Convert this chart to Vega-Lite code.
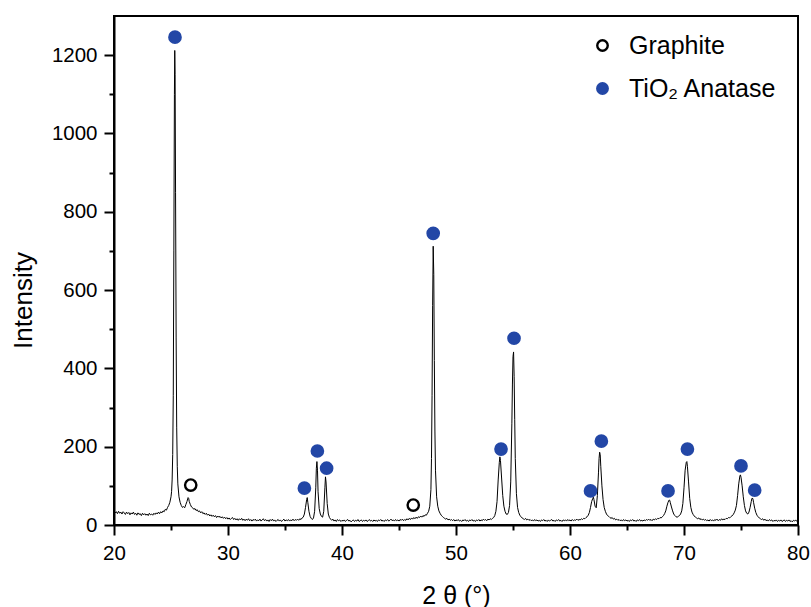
{
"$schema": "https://vega.github.io/schema/vega-lite/v6.json",
"width": 684, "height": 509,
"autosize": {"type": "none"},
"padding": {"left": 114, "top": 16, "right": 13, "bottom": 82},
"background": "white",
"config": {
  "view": {"stroke": "black", "strokeWidth": 2},
  "font": "Liberation Sans",
  "axis": {"grid": false, "domainColor": "black", "domainWidth": 2, "tickColor": "black", "tickWidth": 2, "labelColor": "black", "labelFont": "Liberation Sans", "labelFontSize": 20.5, "labelFlush": false, "labelOverlap": false, "titleColor": "black", "titleFont": "Liberation Sans", "titleFontWeight": "normal"}
},
"datasets": {
"xrd": [
{"t":20.0,"i":36},{"t":20.1,"i":31},{"t":20.2,"i":34},{"t":20.3,"i":29},{"t":20.4,"i":35},{"t":20.5,"i":30},{"t":20.6,"i":33},{"t":20.7,"i":28},{"t":20.8,"i":34},{"t":20.9,"i":31},
{"t":21.0,"i":27},{"t":21.1,"i":33},{"t":21.2,"i":29},{"t":21.3,"i":32},{"t":21.4,"i":26},{"t":21.5,"i":31},{"t":21.6,"i":28},{"t":21.7,"i":33},{"t":21.8,"i":27},{"t":21.9,"i":30},
{"t":22.0,"i":25},{"t":22.1,"i":31},{"t":22.2,"i":27},{"t":22.3,"i":29},{"t":22.4,"i":24},{"t":22.5,"i":30},{"t":22.6,"i":26},{"t":22.7,"i":29},{"t":22.8,"i":25},{"t":22.9,"i":28},
{"t":23.0,"i":24},{"t":23.1,"i":30},{"t":23.2,"i":26},{"t":23.3,"i":28},{"t":23.4,"i":25},{"t":23.5,"i":30},{"t":23.6,"i":27},{"t":23.7,"i":31},{"t":23.8,"i":28},{"t":23.9,"i":33},
{"t":24.0,"i":29},{"t":24.1,"i":34},{"t":24.2,"i":31},{"t":24.3,"i":36},{"t":24.4,"i":34},{"t":24.5,"i":40},{"t":24.6,"i":38},{"t":24.7,"i":45},{"t":24.8,"i":50},{"t":24.9,"i":58},
{"t":25.0,"i":72},{"t":25.05,"i":85},{"t":25.1,"i":115},{"t":25.15,"i":180},{"t":25.2,"i":330},{"t":25.25,"i":700},{"t":25.3,"i":1100},{"t":25.33,"i":1212},{"t":25.36,"i":1150},{"t":25.4,"i":850},
{"t":25.45,"i":480},{"t":25.5,"i":250},{"t":25.55,"i":150},{"t":25.6,"i":105},{"t":25.7,"i":72},{"t":25.8,"i":58},{"t":25.9,"i":50},{"t":26.0,"i":45},{"t":26.1,"i":47},{"t":26.2,"i":44},
{"t":26.3,"i":52},{"t":26.4,"i":60},{"t":26.5,"i":70},{"t":26.55,"i":68},{"t":26.6,"i":60},{"t":26.7,"i":52},{"t":26.8,"i":46},{"t":26.9,"i":44},{"t":27.0,"i":40},{"t":27.1,"i":42},
{"t":27.2,"i":37},{"t":27.3,"i":39},{"t":27.4,"i":34},{"t":27.5,"i":36},{"t":27.6,"i":31},{"t":27.7,"i":34},{"t":27.8,"i":29},{"t":27.9,"i":31},{"t":28.0,"i":27},{"t":28.1,"i":30},
{"t":28.2,"i":25},{"t":28.3,"i":28},{"t":28.4,"i":23},{"t":28.5,"i":26},{"t":28.6,"i":22},{"t":28.7,"i":25},{"t":28.8,"i":21},{"t":28.9,"i":24},{"t":29.0,"i":19},{"t":29.1,"i":23},
{"t":29.2,"i":20},{"t":29.3,"i":22},{"t":29.4,"i":18},{"t":29.5,"i":21},{"t":29.6,"i":17},{"t":29.7,"i":20},{"t":29.8,"i":16},{"t":29.9,"i":19},{"t":30.0,"i":15},{"t":30.1,"i":18},
{"t":30.2,"i":14},{"t":30.3,"i":17},{"t":30.4,"i":19},{"t":30.5,"i":14},{"t":30.6,"i":17},{"t":30.7,"i":13},{"t":30.8,"i":16},{"t":30.9,"i":12},{"t":31.0,"i":16},{"t":31.1,"i":13},
{"t":31.2,"i":17},{"t":31.3,"i":12},{"t":31.4,"i":15},{"t":31.5,"i":11},{"t":31.6,"i":15},{"t":31.7,"i":12},{"t":31.8,"i":16},{"t":31.9,"i":11},{"t":32.0,"i":14},{"t":32.1,"i":10},
{"t":32.2,"i":14},{"t":32.3,"i":12},{"t":32.4,"i":15},{"t":32.5,"i":10},{"t":32.6,"i":13},{"t":32.7,"i":11},{"t":32.8,"i":15},{"t":32.9,"i":10},{"t":33.0,"i":13},{"t":33.1,"i":16},
{"t":33.2,"i":11},{"t":33.3,"i":14},{"t":33.4,"i":10},{"t":33.5,"i":13},{"t":33.6,"i":9},{"t":33.7,"i":14},{"t":33.8,"i":11},{"t":33.9,"i":15},{"t":34.0,"i":10},{"t":34.1,"i":13},
{"t":34.2,"i":9},{"t":34.3,"i":12},{"t":34.4,"i":14},{"t":34.5,"i":10},{"t":34.6,"i":13},{"t":34.7,"i":9},{"t":34.8,"i":12},{"t":34.9,"i":15},{"t":35.0,"i":10},{"t":35.1,"i":13},
{"t":35.2,"i":11},{"t":35.3,"i":14},{"t":35.4,"i":10},{"t":35.5,"i":13},{"t":35.6,"i":11},{"t":35.7,"i":15},{"t":35.8,"i":11},{"t":35.9,"i":14},{"t":36.0,"i":12},{"t":36.1,"i":15},
{"t":36.2,"i":12},{"t":36.3,"i":16},{"t":36.4,"i":14},{"t":36.5,"i":18},{"t":36.6,"i":20},{"t":36.7,"i":28},{"t":36.8,"i":45},{"t":36.9,"i":65},{"t":36.95,"i":70},{"t":37.0,"i":58},
{"t":37.1,"i":35},{"t":37.2,"i":22},{"t":37.3,"i":17},{"t":37.4,"i":14},{"t":37.5,"i":18},{"t":37.6,"i":35},{"t":37.7,"i":95},{"t":37.75,"i":145},{"t":37.8,"i":162},{"t":37.85,"i":140},
{"t":37.9,"i":85},{"t":38.0,"i":42},{"t":38.1,"i":28},{"t":38.2,"i":22},{"t":38.3,"i":20},{"t":38.4,"i":35},{"t":38.5,"i":95},{"t":38.55,"i":123},{"t":38.6,"i":110},{"t":38.7,"i":55},
{"t":38.8,"i":28},{"t":38.9,"i":19},{"t":39.0,"i":15},{"t":39.1,"i":12},{"t":39.2,"i":15},{"t":39.3,"i":10},{"t":39.4,"i":13},{"t":39.5,"i":9},{"t":39.6,"i":14},{"t":39.7,"i":11},
{"t":39.8,"i":13},{"t":39.9,"i":9},{"t":40.0,"i":12},{"t":40.1,"i":10},{"t":40.2,"i":13},{"t":40.3,"i":9},{"t":40.4,"i":12},{"t":40.5,"i":14},{"t":40.6,"i":10},{"t":40.7,"i":12},
{"t":40.8,"i":8},{"t":40.9,"i":11},{"t":41.0,"i":13},{"t":41.1,"i":9},{"t":41.2,"i":12},{"t":41.3,"i":10},{"t":41.4,"i":14},{"t":41.5,"i":9},{"t":41.6,"i":11},{"t":41.7,"i":13},
{"t":41.8,"i":9},{"t":41.9,"i":12},{"t":42.0,"i":10},{"t":42.1,"i":13},{"t":42.2,"i":9},{"t":42.3,"i":11},{"t":42.4,"i":14},{"t":42.5,"i":10},{"t":42.6,"i":12},{"t":42.7,"i":9},
{"t":42.8,"i":13},{"t":42.9,"i":10},{"t":43.0,"i":12},{"t":43.1,"i":9},{"t":43.2,"i":13},{"t":43.3,"i":11},{"t":43.4,"i":14},{"t":43.5,"i":10},{"t":43.6,"i":12},{"t":43.7,"i":9},
{"t":43.8,"i":13},{"t":43.9,"i":11},{"t":44.0,"i":14},{"t":44.1,"i":10},{"t":44.2,"i":12},{"t":44.3,"i":15},{"t":44.4,"i":11},{"t":44.5,"i":13},{"t":44.6,"i":10},{"t":44.7,"i":14},
{"t":44.8,"i":11},{"t":44.9,"i":13},{"t":45.0,"i":10},{"t":45.1,"i":14},{"t":45.2,"i":12},{"t":45.3,"i":15},{"t":45.4,"i":11},{"t":45.5,"i":14},{"t":45.6,"i":12},{"t":45.7,"i":16},
{"t":45.8,"i":13},{"t":45.9,"i":17},{"t":46.0,"i":14},{"t":46.1,"i":18},{"t":46.2,"i":15},{"t":46.3,"i":19},{"t":46.4,"i":16},{"t":46.5,"i":20},{"t":46.6,"i":17},{"t":46.7,"i":21},
{"t":46.8,"i":19},{"t":46.9,"i":23},{"t":47.0,"i":20},{"t":47.1,"i":24},{"t":47.2,"i":22},{"t":47.3,"i":26},{"t":47.4,"i":25},{"t":47.5,"i":30},{"t":47.6,"i":35},{"t":47.7,"i":48},
{"t":47.8,"i":90},{"t":47.85,"i":170},{"t":47.9,"i":330},{"t":47.95,"i":560},{"t":48.0,"i":712},{"t":48.05,"i":640},{"t":48.1,"i":420},{"t":48.15,"i":240},{"t":48.2,"i":140},{"t":48.3,"i":72},
{"t":48.4,"i":48},{"t":48.5,"i":36},{"t":48.6,"i":30},{"t":48.7,"i":25},{"t":48.8,"i":22},{"t":48.9,"i":19},{"t":49.0,"i":17},{"t":49.1,"i":15},{"t":49.2,"i":17},{"t":49.3,"i":13},
{"t":49.4,"i":15},{"t":49.5,"i":12},{"t":49.6,"i":14},{"t":49.7,"i":11},{"t":49.8,"i":14},{"t":49.9,"i":10},{"t":50.0,"i":13},{"t":50.1,"i":11},{"t":50.2,"i":14},{"t":50.3,"i":10},
{"t":50.4,"i":12},{"t":50.5,"i":9},{"t":50.6,"i":13},{"t":50.7,"i":11},{"t":50.8,"i":14},{"t":50.9,"i":10},{"t":51.0,"i":12},{"t":51.1,"i":9},{"t":51.2,"i":13},{"t":51.3,"i":11},
{"t":51.4,"i":14},{"t":51.5,"i":10},{"t":51.6,"i":12},{"t":51.7,"i":9},{"t":51.8,"i":13},{"t":51.9,"i":11},{"t":52.0,"i":14},{"t":52.1,"i":10},{"t":52.2,"i":13},{"t":52.3,"i":11},
{"t":52.4,"i":15},{"t":52.5,"i":12},{"t":52.6,"i":14},{"t":52.7,"i":11},{"t":52.8,"i":15},{"t":52.9,"i":13},{"t":53.0,"i":16},{"t":53.1,"i":14},{"t":53.2,"i":17},{"t":53.3,"i":19},
{"t":53.4,"i":24},{"t":53.5,"i":35},{"t":53.6,"i":60},{"t":53.7,"i":115},{"t":53.8,"i":160},{"t":53.85,"i":174},{"t":53.9,"i":165},{"t":54.0,"i":120},{"t":54.1,"i":75},{"t":54.2,"i":48},
{"t":54.3,"i":35},{"t":54.4,"i":28},{"t":54.5,"i":27},{"t":54.6,"i":32},{"t":54.7,"i":50},{"t":54.8,"i":110},{"t":54.9,"i":260},{"t":54.95,"i":360},{"t":55.0,"i":430},{"t":55.05,"i":442},
{"t":55.1,"i":380},{"t":55.15,"i":270},{"t":55.2,"i":170},{"t":55.3,"i":80},{"t":55.4,"i":45},{"t":55.5,"i":32},{"t":55.6,"i":25},{"t":55.7,"i":21},{"t":55.8,"i":18},{"t":55.9,"i":16},
{"t":56.0,"i":14},{"t":56.1,"i":17},{"t":56.2,"i":13},{"t":56.3,"i":15},{"t":56.4,"i":12},{"t":56.5,"i":14},{"t":56.6,"i":11},{"t":56.7,"i":13},{"t":56.8,"i":10},{"t":56.9,"i":14},
{"t":57.0,"i":11},{"t":57.1,"i":13},{"t":57.2,"i":10},{"t":57.3,"i":12},{"t":57.4,"i":9},{"t":57.5,"i":13},{"t":57.6,"i":11},{"t":57.7,"i":14},{"t":57.8,"i":10},{"t":57.9,"i":12},
{"t":58.0,"i":9},{"t":58.1,"i":13},{"t":58.2,"i":10},{"t":58.3,"i":12},{"t":58.4,"i":14},{"t":58.5,"i":10},{"t":58.6,"i":12},{"t":58.7,"i":9},{"t":58.8,"i":13},{"t":58.9,"i":11},
{"t":59.0,"i":14},{"t":59.1,"i":10},{"t":59.2,"i":12},{"t":59.3,"i":9},{"t":59.4,"i":13},{"t":59.5,"i":11},{"t":59.6,"i":13},{"t":59.7,"i":10},{"t":59.8,"i":14},{"t":59.9,"i":11},
{"t":60.0,"i":13},{"t":60.1,"i":10},{"t":60.2,"i":14},{"t":60.3,"i":11},{"t":60.4,"i":13},{"t":60.5,"i":12},{"t":60.6,"i":15},{"t":60.7,"i":12},{"t":60.8,"i":14},{"t":60.9,"i":13},
{"t":61.0,"i":16},{"t":61.1,"i":14},{"t":61.2,"i":17},{"t":61.3,"i":16},{"t":61.4,"i":19},{"t":61.5,"i":21},{"t":61.6,"i":25},{"t":61.7,"i":32},{"t":61.8,"i":45},{"t":61.9,"i":60},
{"t":62.0,"i":68},{"t":62.05,"i":71},{"t":62.1,"i":65},{"t":62.2,"i":48},{"t":62.3,"i":44},{"t":62.4,"i":75},{"t":62.5,"i":135},{"t":62.55,"i":170},{"t":62.6,"i":186},{"t":62.65,"i":180},
{"t":62.7,"i":150},{"t":62.8,"i":100},{"t":62.9,"i":65},{"t":63.0,"i":45},{"t":63.1,"i":35},{"t":63.2,"i":28},{"t":63.3,"i":24},{"t":63.4,"i":22},{"t":63.5,"i":19},{"t":63.6,"i":17},
{"t":63.7,"i":19},{"t":63.8,"i":15},{"t":63.9,"i":17},{"t":64.0,"i":13},{"t":64.1,"i":15},{"t":64.2,"i":12},{"t":64.3,"i":14},{"t":64.4,"i":11},{"t":64.5,"i":13},{"t":64.6,"i":10},
{"t":64.7,"i":14},{"t":64.8,"i":11},{"t":64.9,"i":13},{"t":65.0,"i":10},{"t":65.1,"i":12},{"t":65.2,"i":9},{"t":65.3,"i":13},{"t":65.4,"i":11},{"t":65.5,"i":14},{"t":65.6,"i":10},
{"t":65.7,"i":12},{"t":65.8,"i":9},{"t":65.9,"i":13},{"t":66.0,"i":11},{"t":66.1,"i":14},{"t":66.2,"i":10},{"t":66.3,"i":12},{"t":66.4,"i":10},{"t":66.5,"i":13},{"t":66.6,"i":11},
{"t":66.7,"i":14},{"t":66.8,"i":12},{"t":66.9,"i":15},{"t":67.0,"i":12},{"t":67.1,"i":14},{"t":67.2,"i":11},{"t":67.3,"i":15},{"t":67.4,"i":13},{"t":67.5,"i":16},{"t":67.6,"i":14},
{"t":67.7,"i":17},{"t":67.8,"i":16},{"t":67.9,"i":19},{"t":68.0,"i":18},{"t":68.1,"i":21},{"t":68.2,"i":24},{"t":68.3,"i":29},{"t":68.4,"i":36},{"t":68.5,"i":48},{"t":68.6,"i":58},
{"t":68.7,"i":64},{"t":68.75,"i":63},{"t":68.8,"i":57},{"t":68.9,"i":46},{"t":69.0,"i":36},{"t":69.1,"i":28},{"t":69.2,"i":24},{"t":69.3,"i":21},{"t":69.4,"i":20},{"t":69.5,"i":22},
{"t":69.6,"i":24},{"t":69.7,"i":28},{"t":69.8,"i":36},{"t":69.9,"i":55},{"t":70.0,"i":95},{"t":70.1,"i":140},{"t":70.2,"i":160},{"t":70.25,"i":162},{"t":70.3,"i":150},{"t":70.4,"i":110},
{"t":70.5,"i":68},{"t":70.6,"i":45},{"t":70.7,"i":33},{"t":70.8,"i":27},{"t":70.9,"i":23},{"t":71.0,"i":20},{"t":71.1,"i":18},{"t":71.2,"i":16},{"t":71.3,"i":18},{"t":71.4,"i":14},
{"t":71.5,"i":16},{"t":71.6,"i":13},{"t":71.7,"i":15},{"t":71.8,"i":12},{"t":71.9,"i":14},{"t":72.0,"i":11},{"t":72.1,"i":13},{"t":72.2,"i":10},{"t":72.3,"i":14},{"t":72.4,"i":11},
{"t":72.5,"i":13},{"t":72.6,"i":10},{"t":72.7,"i":14},{"t":72.8,"i":12},{"t":72.9,"i":15},{"t":73.0,"i":11},{"t":73.1,"i":14},{"t":73.2,"i":12},{"t":73.3,"i":16},{"t":73.4,"i":13},
{"t":73.5,"i":15},{"t":73.6,"i":14},{"t":73.7,"i":17},{"t":73.8,"i":16},{"t":73.9,"i":19},{"t":74.0,"i":18},{"t":74.1,"i":21},{"t":74.2,"i":23},{"t":74.3,"i":26},{"t":74.4,"i":31},
{"t":74.5,"i":38},{"t":74.6,"i":50},{"t":74.7,"i":75},{"t":74.8,"i":105},{"t":74.9,"i":125},{"t":74.95,"i":128},{"t":75.0,"i":122},{"t":75.1,"i":100},{"t":75.2,"i":72},{"t":75.3,"i":50},
{"t":75.4,"i":36},{"t":75.5,"i":30},{"t":75.6,"i":28},{"t":75.7,"i":33},{"t":75.8,"i":45},{"t":75.9,"i":60},{"t":75.95,"i":67},{"t":76.0,"i":69},{"t":76.05,"i":66},{"t":76.1,"i":58},
{"t":76.2,"i":43},{"t":76.3,"i":32},{"t":76.4,"i":25},{"t":76.5,"i":21},{"t":76.6,"i":18},{"t":76.7,"i":16},{"t":76.8,"i":14},{"t":76.9,"i":16},{"t":77.0,"i":12},{"t":77.1,"i":15},
{"t":77.2,"i":11},{"t":77.3,"i":13},{"t":77.4,"i":10},{"t":77.5,"i":14},{"t":77.6,"i":11},{"t":77.7,"i":13},{"t":77.8,"i":9},{"t":77.9,"i":12},{"t":78.0,"i":10},{"t":78.1,"i":13},
{"t":78.2,"i":9},{"t":78.3,"i":12},{"t":78.4,"i":10},{"t":78.5,"i":13},{"t":78.6,"i":9},{"t":78.7,"i":11},{"t":78.8,"i":13},{"t":78.9,"i":9},{"t":79.0,"i":12},{"t":79.1,"i":10},
{"t":79.2,"i":13},{"t":79.3,"i":9},{"t":79.4,"i":11},{"t":79.5,"i":8},{"t":79.6,"i":12},{"t":79.7,"i":10},{"t":79.8,"i":13},{"t":79.9,"i":9},{"t":80.0,"i":11}
],
"peaks": [
{"t":25.35,"i":1246,"phase":"TiO₂ Anatase"},
{"t":36.7,"i":94,"phase":"TiO₂ Anatase"},
{"t":37.84,"i":189,"phase":"TiO₂ Anatase"},
{"t":38.65,"i":145,"phase":"TiO₂ Anatase"},
{"t":48.0,"i":745,"phase":"TiO₂ Anatase"},
{"t":53.95,"i":194,"phase":"TiO₂ Anatase"},
{"t":55.09,"i":477,"phase":"TiO₂ Anatase"},
{"t":61.8,"i":87,"phase":"TiO₂ Anatase"},
{"t":62.75,"i":214,"phase":"TiO₂ Anatase"},
{"t":68.6,"i":87,"phase":"TiO₂ Anatase"},
{"t":70.3,"i":194,"phase":"TiO₂ Anatase"},
{"t":75.0,"i":151,"phase":"TiO₂ Anatase"},
{"t":76.2,"i":89,"phase":"TiO₂ Anatase"},
{"t":26.73,"i":102,"phase":"Graphite"},
{"t":46.25,"i":51,"phase":"Graphite"}
]
},
"encoding": {
  "x": {"field": "t", "type": "quantitative", "title": "2 θ (°)",
    "scale": {"domain": [20, 80], "nice": false, "zero": false},
    "axis": {"values": [20,25,30,35,40,45,50,55,60,65,70,75,80],
      "labelExpr": "datum.value % 10 === 0 ? datum.label : ''",
      "tickSize": {"condition": {"test": "datum.value % 10 === 0", "value": 10}, "value": 5},
      "labelPadding": 8, "titleFontSize": 25, "titleY": 78, "titleBaseline": "alphabetic"}},
  "y": {"field": "i", "type": "quantitative", "title": "Intensity",
    "scale": {"domain": [0, 1300], "nice": false},
    "axis": {"values": [0,100,200,300,400,500,600,700,800,900,1000,1100,1200],
      "labelExpr": "datum.value % 200 === 0 ? datum.label : ''",
      "format": "d",
      "tickSize": {"condition": {"test": "datum.value % 200 === 0", "value": 10}, "value": 5},
      "labelPadding": 7, "titleFontSize": 26, "titleX": -83, "titleY": 284, "titleBaseline": "alphabetic"}}
},
"layer": [
  {"data": {"name": "xrd"}, "mark": {"type": "line", "color": "black", "strokeWidth": 1, "clip": true}},
  {"data": {"name": "peaks"},
   "mark": {"type": "point", "shape": "circle", "filled": true, "size": 128, "strokeWidth": 2.4, "opacity": 1},
   "encoding": {
     "fill": {"field": "phase", "type": "nominal",
       "scale": {"domain": ["Graphite", "TiO₂ Anatase"], "range": ["rgba(255,255,255,0)", "#2347A6"]},
       "legend": {"title": null, "orient": "none", "legendX": 476, "legendY": 17, "labelFontSize": 25, "labelFont": "Liberation Sans", "labelColor": "black", "symbolSize": 110, "symbolStrokeWidth": 2.4, "rowPadding": 17, "labelOffset": 14, "padding": 0, "symbolType": "circle"}},
     "stroke": {"field": "phase", "type": "nominal",
       "scale": {"domain": ["Graphite", "TiO₂ Anatase"], "range": ["black", "#2347A6"]},
       "legend": {"title": null, "orient": "none", "legendX": 476, "legendY": 17, "labelFontSize": 25, "labelFont": "Liberation Sans", "labelColor": "black", "symbolSize": 110, "symbolStrokeWidth": 2.4, "rowPadding": 17, "labelOffset": 14, "padding": 0, "symbolType": "circle"}}
   }}
]
}
